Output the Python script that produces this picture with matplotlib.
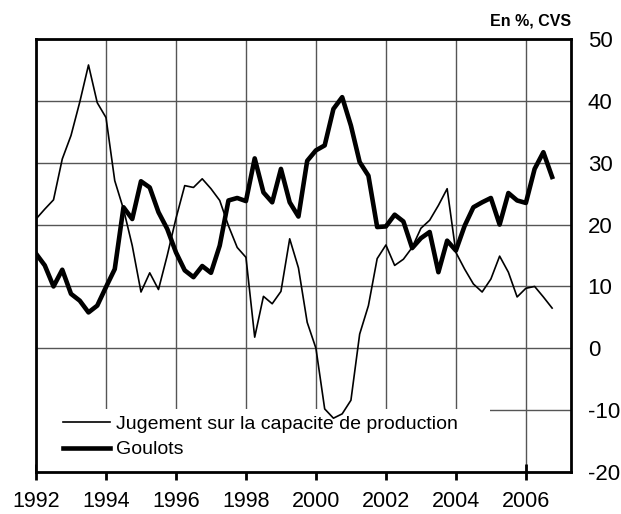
import numpy as np
import matplotlib
matplotlib.use('Agg')
import matplotlib.pyplot as plt
from matplotlib.patches import Rectangle

plt.rcParams['font.family'] = ['Liberation Sans', 'DejaVu Sans']
plt.rcParams['axes.unicode_minus'] = False

# quarterly dates, 1992Q1 .. 2006Q4
years = np.arange(1992, 2007, 0.25)

jugement = [20.9, 22.5, 24.0, 30.6, 34.4, 39.8, 45.8, 39.7, 37.3, 27.1,
            22.5, 16.6, 9.1, 12.2, 9.5, 15.0, 21.0, 26.3, 26.0, 27.4,
            25.8, 23.9, 19.8, 16.3, 14.7, 1.8, 8.4, 7.2, 9.2, 17.7,
            13.0, 4.2, 0.0, -9.8, -11.3, -10.6, -8.4, 2.3, 6.9, 14.5,
            16.7, 13.4, 14.4, 16.3, 19.4, 20.7, 23.1, 25.8, 15.5, 12.8,
            10.4, 9.1, 11.2, 14.9, 12.3, 8.3, 9.7, 10.0, 8.3, 6.5]

goulots = [15.3, 13.4, 10.0, 12.7, 8.8, 7.7, 5.8, 6.9, 9.9, 12.8,
           22.8, 20.9, 27.0, 26.0, 22.0, 19.3, 15.5, 12.6, 11.5, 13.3,
           12.2, 16.6, 23.9, 24.3, 23.8, 30.7, 25.2, 23.6, 29.0, 23.6,
           21.3, 30.3, 32.0, 32.8, 38.7, 40.6, 36.0, 30.1, 27.9, 19.6,
           19.7, 21.6, 20.5, 16.2, 17.8, 18.8, 12.3, 17.4, 15.8, 19.8,
           22.8, 23.6, 24.3, 20.0, 25.1, 23.9, 23.5, 29.0, 31.7, 27.7]

fig = plt.figure(figsize=(6.21, 5.14), dpi=100)
ax = fig.add_axes([0.058, 0.0817, 0.8615, 0.8424])

ax.plot(years, jugement, color='black', lw=1.2, zorder=3,
        label='Jugement sur la capacite de production')
ax.plot(years, goulots, color='black', lw=3.3, zorder=3, label='Goulots')

ax.set_xlim(1992, 2007.29)
ax.set_ylim(-20, 50)
ax.set_xticks(range(1992, 2007, 2))
ax.set_yticks(range(-20, 51, 10))

ax.grid(True, color='#555555', lw=1)
ax.set_axisbelow(True)

# white block behind the legend, hides the grid
ax.add_patch(Rectangle((0, 0), 0.849, 0.1455, transform=ax.transAxes,
                       facecolor='white', edgecolor='none', zorder=1))

for s in ax.spines.values():
    s.set_linewidth(2)
    s.set_zorder(4)

ax.yaxis.tick_right()
ax.tick_params(axis='y', length=0, pad=12, labelsize=16)
ax.tick_params(axis='x', direction='inout', length=11, width=2, pad=8, labelsize=15.5)

leg = ax.legend(loc='lower left', frameon=False, fontsize=14, handlelength=2.4,
                handletextpad=0.35, borderpad=0.5, labelspacing=0.4,
                borderaxespad=0.0, bbox_to_anchor=(0.032, 0.009))
leg.set_zorder(5)

ax.text(1.0, 1.025, 'En %, CVS', transform=ax.transAxes, ha='right', va='bottom',
        fontsize=11.5, fontweight='bold')

fig.savefig('out.png', dpi=100)
